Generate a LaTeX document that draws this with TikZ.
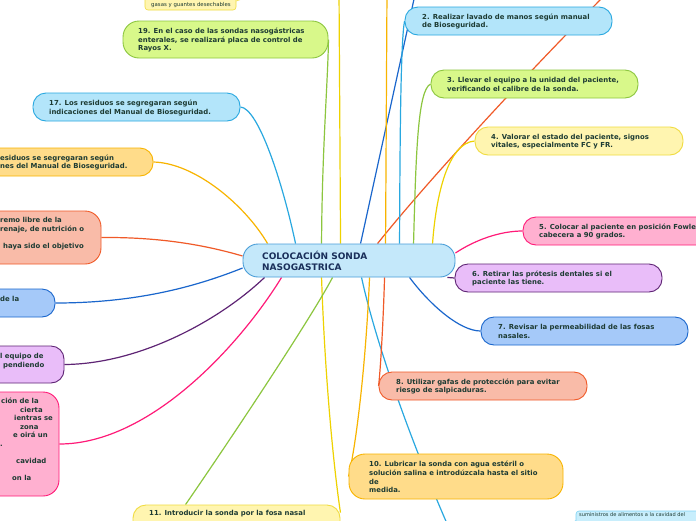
\documentclass[tikz,border=0pt]{standalone}
\usepackage{fontspec}
\setmainfont{DejaVu Sans}
\pgfdeclarelayer{background}
\pgfsetlayers{background,main}
\definecolor{txt}{HTML}{1D3B33}
\definecolor{ctxt}{HTML}{1A2F5A}
\definecolor{lbF}{HTML}{B3E5FA}\definecolor{lbD}{HTML}{29A8E0}
\definecolor{cF}{HTML}{C4E8FA}\definecolor{cD}{HTML}{4A9ED8}
\definecolor{grF}{HTML}{D8F88A}\definecolor{grD}{HTML}{8CC63F}
\definecolor{yeF}{HTML}{FFF5B0}\definecolor{yeD}{HTML}{F0DC40}\definecolor{yeL}{HTML}{EED200}
\definecolor{orF}{HTML}{FFDC8A}\definecolor{orD}{HTML}{F8B400}
\definecolor{rdF}{HTML}{F9BBA8}\definecolor{rdD}{HTML}{F05A28}
\definecolor{blF}{HTML}{A5C9F9}\definecolor{blD}{HTML}{1A66CC}
\definecolor{puF}{HTML}{E9BDF9}\definecolor{puD}{HTML}{5E2474}
\definecolor{piF}{HTML}{FFB0D0}\definecolor{piD}{HTML}{FF1A78}
\definecolor{smF}{HTML}{C8EEFC}\definecolor{smD}{HTML}{80D4F4}
\begin{document}
\begin{tikzpicture}[x=1pt,y=-1pt,
  every node/.style={inner sep=0pt},
  mbox/.style={draw, rounded corners=13pt, line width=0.9pt},
  sbox/.style={draw, rounded corners=3pt, line width=0.6pt},
  mtxt/.style={anchor=west, align=left, text=txt, font=\fontsize{6.9}{8.6}\selectfont\bfseries},
  smtxt/.style={anchor=west, text=txt, font=\fontsize{5.2}{6}\selectfont},
  link/.style={line width=1.2pt},
]
\useasboundingbox (0,0) rectangle (696,520);

% central node
\node[mbox, fill=cF, draw=cD, rounded corners=15pt, minimum width=212pt, minimum height=33pt] (c) at (349,260.5) {};
\node[anchor=west, align=left, text=ctxt, font=\fontsize{9}{10.5}\selectfont\bfseries] (ct) at (262,261) {COLOCACIÓN SONDA\\NASOGASTRICA};

% right side
\node[mbox, fill=lbF, draw=lbD, minimum width=207pt, minimum height=28pt] (n2) at (508.5,21) {};
\node[mtxt] (n2t) at (422,21.5) {2. Realizar lavado de manos según manual\\de Bioseguridad.};
\node[mbox, fill=grF, draw=grD, minimum width=207pt, minimum height=28pt] (n3) at (534.5,84) {};
\node[mtxt] (n3t) at (447,84.5) {3. Llevar el equipo a la unidad del paciente,\\verificando el calibre de la sonda.};
\node[mbox, fill=yeF, draw=yeD, minimum width=208pt, minimum height=28pt] (n4) at (579,141) {};
\node[mtxt] (n4t) at (491,141.5) {4. Valorar el estado del paciente, signos\\vitales, especialmente FC y FR.};
\node[mbox, fill=piF, draw=piD, minimum width=197pt, minimum height=28pt] (n5) at (621.5,231) {};
\node[mtxt] (n5t) at (539,231.5) {5. Colocar al paciente en posición Fowle\\cabecera a 90 grados.};
\node[mbox, fill=puF, draw=puD, minimum width=207pt, minimum height=28pt] (n6) at (558.5,278) {};
\node[mtxt] (n6t) at (472,278.5) {6. Retirar las prótesis dentales si el\\paciente las tiene.};
\node[mbox, fill=blF, draw=blD, minimum width=207pt, minimum height=28pt] (n7) at (584.5,331) {};
\node[mtxt] (n7t) at (498,331.5) {7. Revisar la permeabilidad de las fosas\\nasales.};
\node[mbox, fill=rdF, draw=rdD, minimum width=208pt, minimum height=28pt] (n8) at (483,386) {};
\node[mtxt] (n8t) at (396,386.5) {8. Utilizar gafas de protección para evitar\\riesgo de salpicaduras.};
\node[mbox, fill=orF, draw=orD, rounded corners=16pt, minimum width=214pt, minimum height=45pt] (n10) at (456,476.5) {};
\node[mtxt] (n10t) at (369,477) {10. Lubricar la sonda con agua estéril o\\solución salina e introdúzcala hasta el sitio\\de\\medida.};
\node[mbox, fill=yeF, draw=yeD, minimum width=207pt, minimum height=40pt] (n11) at (236.5,525) {};
\node[mtxt] (n11t) at (149,514) {11. Introducir la sonda por la fosa nasal};
\node[sbox, fill=smF, draw=smD, minimum width=144pt, minimum height=19pt] (sm) at (648,520.5) {};
\node[smtxt, font=\fontsize{5.1}{6}\selectfont] (smt) at (579,515) {suministros de alimentos a la cavidad del};

% left side
\node[sbox, fill=yeF, draw=yeD, minimum width=91pt, minimum height=18pt] (gs) at (190.5,1) {};
\node[smtxt, font=\fontsize{5.4}{6}\selectfont] (gst) at (151,5) {gasas y guantes desechables};
\node[mbox, fill=grF, draw=grD, rounded corners=16pt, minimum width=205pt, minimum height=37pt] (n19) at (225.5,39.5) {};
\node[mtxt] (n19t) at (138,40) {19. En el caso de las sondas nasogástricas\\enterales, se realizará placa de control de\\Rayos X.};
\node[mbox, fill=lbF, draw=lbD, minimum width=207pt, minimum height=28pt] (n17) at (136.5,107) {};
\node[mtxt] (n17t) at (49,108) {17. Los residuos se segregaran según\\indicaciones del Manual de Bioseguridad.};
\node[mbox, fill=orF, draw=orD, minimum width=183pt, minimum height=28pt] (n18) at (61.5,162) {};
\node[mtxt] (n18t) at (0,162.5) {esiduos se segregaran según\\nes del Manual de Bioseguridad.};
\node[mbox, fill=rdF, draw=rdD, rounded corners=16pt, minimum width=131pt, minimum height=53pt] (nR) at (35.5,237.5) {};
\node[mtxt] (nRt) at (0,234) {remo libre de la\\renaje, de nutrición o\\\mbox{}\\\hspace*{3pt}haya sido el objetivo};
\node[mbox, fill=blF, draw=blD, minimum width=85pt, minimum height=28pt] (nB) at (12.5,303) {};
\node[mtxt] (nBt) at (0,299) {de la};
\node[mbox, fill=puF, draw=puD, minimum width=94pt, minimum height=37pt] (nP) at (17,364.5) {};
\node[mtxt] (nPt) at (0,361) {l equipo de\\\hspace*{3pt}pendiendo};
\node[mbox, fill=piF, draw=piD, rounded corners=16pt, minimum width=89pt, minimum height=104pt] (nK) at (14.5,444) {};
\node[mtxt] (nKt) at (0,439.5) {\hspace*{1pt}ción de la\\\hspace*{20pt}cierta\\\hspace*{14pt}ientras se\\\hspace*{20pt}zona\\\hspace*{13pt}e oirá un\\.\\\mbox{}\\\hspace*{16pt}cavidad\\\mbox{}\\\hspace*{12pt}on la};

\begin{pgfonlayer}{background}
\fill[white] (0,0) rectangle (696,520);
\coordinate (tY) at (339,-10);
\coordinate (tB) at (416,-10);
\coordinate (tO) at (387,-10);
\coordinate (tR) at (612,-12);
\coordinate (bL) at (452,535);
\coordinate (tG) at (246,-8);
\coordinate (bS) at (568,530);
% upward from centre
\draw[link, orD] ([xshift=25pt]c.north west) .. controls (245,205) and (195,163) .. (n18.east);
\draw[link, lbD] ([xshift=53pt]c.north west) .. controls (282,180) and (258,108) .. (n17.east);
\draw[link, grD] ([xshift=79pt]c.north west) .. controls (322,150) and (328,80) .. (n19.east);
\draw[link, yeL] ([xshift=98pt]c.north west) -- (tY);
\draw[link, blD] ([xshift=118pt]c.north west) -- (tB);
\draw[link, rdD] ([xshift=135pt]c.north west) .. controls (420,190) and (520,80) .. (tR);
\draw[link, orD] ([xshift=143pt]c.north west) -- (tO);
\draw[link, lbD] ([xshift=157pt]c.north west) .. controls (400,120) and (401,40) .. (n2.west);
\draw[link, grD] ([xshift=171pt]c.north west) .. controls (416,150) and (418,90) .. (n3.west);
\draw[link, yeL] ([xshift=190pt]c.north west) .. controls (436,195) and (448,143) .. (n4.west);
% right
\draw[link, piD] ([yshift=7.5pt]c.east) .. controls (475,240) and (500,231) .. (n5.west);
\draw[link, puD] ([xshift=-8pt]c.south east) -- (n6.west);
% left
\draw[link, rdD] ([yshift=4.5pt]c.west) .. controls (205,245) and (160,237) .. (nR.east);
\draw[link, blD] ([yshift=-7.5pt]c.west) .. controls (200,285) and (140,303) .. (nB.east);
\draw[link, puD] ([xshift=22pt]c.south west) .. controls (220,320) and (140,364) .. (nP.east);
\draw[link, piD] ([xshift=39pt]c.south west) .. controls (240,345) and (150,444) .. (nK.east);
% downward
\draw[link, yeL] ([xshift=79pt]c.south west) .. controls (325,380) and (334,470) .. ([yshift=-8pt]n11.north east);
\draw[link, grD] ([xshift=90pt]c.south west) .. controls (310,320) and (230,440) .. ([xshift=53pt]n11.north west);
\draw[link, lbD] ([xshift=119pt]c.south west) .. controls (375,340) and (410,440) .. (bL);
\draw[link, orD] ([xshift=127pt]c.south west) .. controls (366,360) and (357,440) .. (n10.west);
\draw[link, rdD] ([xshift=142pt]c.south west) .. controls (383,330) and (380,375) .. (n8.west);
\draw[link, blD] ([xshift=167pt]c.south west) .. controls (430,305) and (460,331) .. (n7.west);
% small nodes
\draw[yeD, line width=0.6pt] (gs.east) .. controls (242,0) and (244,-4) .. (tG);
\draw[smD, line width=0.6pt] (sm.west) .. controls (573,522) .. (bS);
\end{pgfonlayer}
\end{tikzpicture}
\end{document}
